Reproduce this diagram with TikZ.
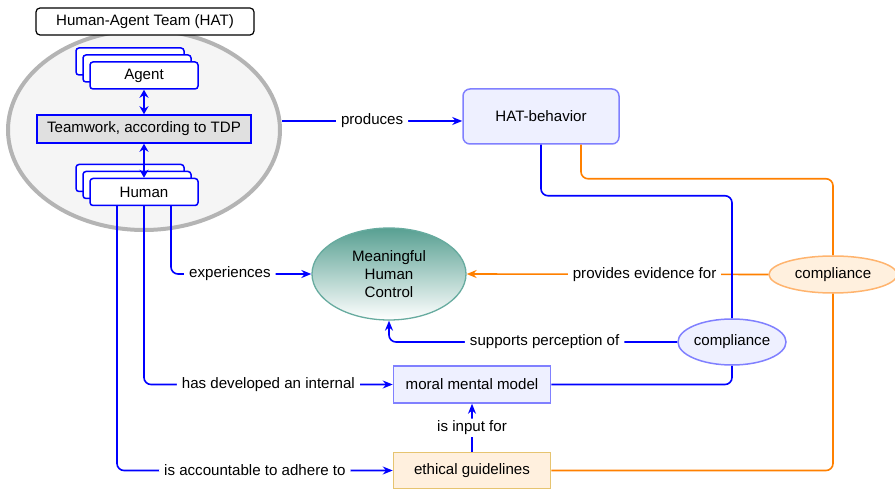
\documentclass[tikz,border=0pt]{standalone}
\usepackage{fontspec}
\setmainfont{Liberation Sans}
\usetikzlibrary{arrows.meta,positioning,shapes.geometric}
\definecolor{edgeblue}{RGB}{0,0,255}
\definecolor{edgeorange}{RGB}{255,128,0}
\definecolor{lilacfill}{RGB}{238,240,255}
\definecolor{lilacdraw}{RGB}{128,128,255}
\definecolor{peachfill}{RGB}{255,240,222}
\definecolor{golddraw}{RGB}{230,196,112}
\definecolor{peachdraw}{RGB}{255,180,110}
\definecolor{tealtop}{RGB}{88,160,146}
\definecolor{tealdraw}{RGB}{103,171,159}
\definecolor{hatgray}{RGB}{180,180,180}
\definecolor{hatfill}{RGB}{245,245,245}
\definecolor{teamfill}{RGB}{224,224,224}
\tikzset{
  member/.style={rectangle, rounded corners=3pt, draw=edgeblue, line width=1.5pt, fill=white,
                 minimum width=108pt, minimum height=27pt, inner sep=0pt},
  teambox/.style={rectangle, draw=edgeblue, line width=1.5pt, fill=teamfill,
                  minimum width=214pt, minimum height=28pt, inner sep=0pt},
  concept/.style={rectangle, draw=lilacdraw, line width=1.5pt, fill=lilacfill,
                  minimum width=157pt, minimum height=37pt, inner sep=0pt},
  conceptorange/.style={concept, draw=golddraw, fill=peachfill, minimum height=36pt},
  complblue/.style={ellipse, draw=lilacdraw, line width=1.5pt, fill=lilacfill,
                    minimum width=104pt, minimum height=46pt, inner sep=0pt},
  complorange/.style={complblue, draw=peachdraw, fill=peachfill, minimum width=128pt, minimum height=37pt},
  edgelabel/.style={fill=white, text=black, inner xsep=5pt, inner ysep=2pt},
  arrowblue/.style={-{Stealth[length=10pt,width=8pt]}, line width=1.6pt, edgeblue, rounded corners=7pt},
  arroworange/.style={-{Stealth[length=10pt,width=8pt]}, line width=1.6pt, edgeorange},
  lineblue/.style={line width=1.6pt, edgeblue, rounded corners=7pt},
  lineorange/.style={line width=1.6pt, edgeorange, rounded corners=7pt},
  twoway/.style={{Stealth[length=8pt,width=9pt]}-{Stealth[length=8pt,width=9pt]}, line width=1.6pt, edgeblue},
}

\begin{document}
\begin{tikzpicture}[x=1pt, y=-1pt, font=\fontsize{15.1pt}{17.7pt}\selectfont]
\useasboundingbox (0,0) rectangle (895,489);

% the team
\node[ellipse, draw=hatgray, line width=4pt, fill=hatfill, minimum width=272pt, minimum height=200pt] (hat) at (144,130) {};
\node[rectangle, rounded corners=4pt, draw, line width=1.2pt, fill=white,
      minimum width=218pt, minimum height=27pt, inner sep=0pt] (hatname) at (145,21.5) {Human-Agent Team (HAT)};
\foreach \d in {14,7} {
  \node[member] at (144-\d,75.5-\d) {};
  \node[member] at (144-\d,192-\d) {};
}
\node[member] (agent) at (144,75.5) {Agent};
\node[member] (human) at (144,192) {Human};
\node[teambox] (team) at (144,129) {Teamwork, according to TDP};
\draw[twoway] (agent) -- (team);
\draw[twoway] (human) -- (team);

% concepts
\node[concept, rounded corners=7pt, minimum width=156pt, minimum height=55pt] (behavior) at (541,116.5) {HAT-behavior};
\node[ellipse, draw=tealdraw, line width=1.3pt, top color=tealtop, bottom color=white,
      minimum width=154pt, minimum height=92pt, align=center, inner sep=0pt] (mhc) at (389,274) {Meaningful\\Human\\Control};
\node[concept] (moral) at (472,384.5) {moral mental model};
\node[conceptorange, below=48pt of moral] (ethical) {ethical guidelines};
\node[complblue] (compl2) at (732,342) {compliance};
\node[complorange] (compl1) at (833,274.5) {compliance};

% connectors
\coordinate (prodend) at ([yshift=-4.5pt]behavior.west);
\draw[arrowblue] (hat.east |- prodend) -- node[edgelabel]{produces} (prodend);
\draw[lineorange] ([xshift=40pt]behavior.south) -- ++(0,34) -| (compl1.north);
\draw[arroworange] (compl1.west) -- node[edgelabel, pos=0.41]{provides evidence for} (mhc.east);
\draw[lineorange] (compl1.south) |- (ethical.east);
\draw[lineblue] (behavior.south) -- ++(0,51) -| (compl2.north);
\draw[arrowblue] (compl2.west) -| node[edgelabel, pos=0.23]{supports perception of} (mhc.south);
\draw[lineblue] (compl2.south) |- (moral.east);
\draw[arrowblue] (ethical) -- node[edgelabel]{is input for} (moral);
\draw[arrowblue] ([xshift=27pt]human.south) |- node[edgelabel, pos=0.71]{experiences} (mhc.west);
\draw[arrowblue] (human.south) |- node[edgelabel, pos=0.75]{has developed an internal} (moral.west);
\draw[arrowblue] ([xshift=-27pt]human.south) |- node[edgelabel, pos=0.75]{is accountable to adhere to} (ethical.west);
\end{tikzpicture}
\end{document}
